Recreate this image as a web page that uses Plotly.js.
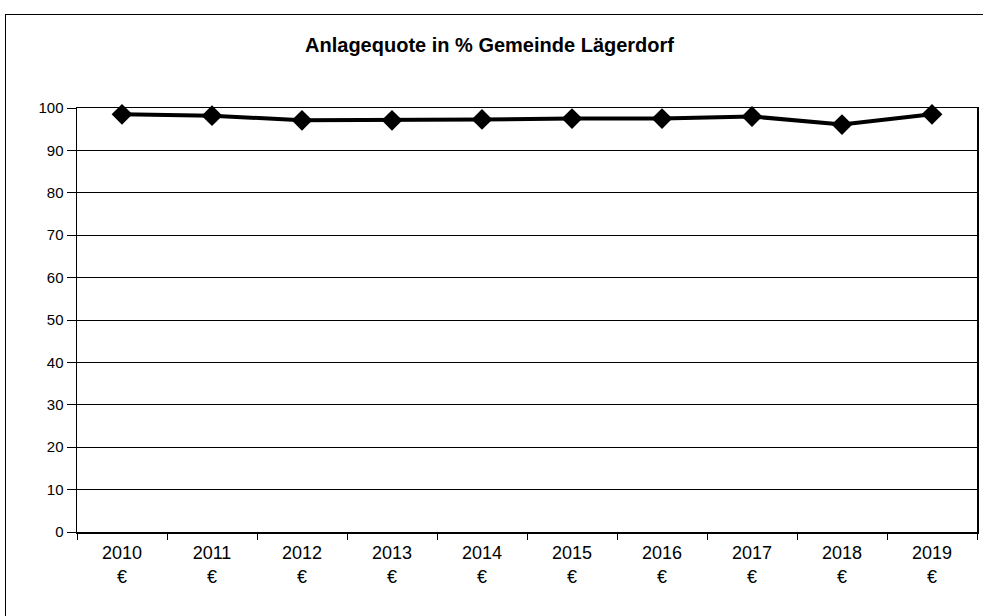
<!DOCTYPE html>
<html>
<head>
<meta charset="utf-8">
<script src="https://cdn.plot.ly/plotly-3.0.1.min.js"></script>
<style>
html,body{margin:0;padding:0;background:#fff;}
#wrap{position:relative;width:983px;height:616px;}
#chart{position:absolute;left:0;top:0;width:983px;height:616px;}
#frame{position:absolute;left:5px;top:14px;width:978px;height:602px;border-top:1px solid #000;border-left:1px solid #000;pointer-events:none;}
</style>
</head>
<body>
<div id="wrap"><div id="chart"></div><div id="frame"></div></div>
<script>
const years = ["2010","2011","2012","2013","2014","2015","2016","2017","2018","2019"];
const tickLabels = ["2010<br>€","2011<br>€","2012<br>€","2013<br>€","2014<br>€","2015<br>€","2016<br>€","2017<br>€","2018<br>€","2019<br>€"];
const anlagequote = [98.5, 98.2, 97.1, 97.1, 97.3, 97.5, 97.5, 98.0, 96.1, 98.5];
const yTicks = [0,10,20,30,40,50,60,70,80,90,100];

const trace = {
  x: years,
  y: anlagequote,
  type: "scatter",
  mode: "lines+markers",
  line: {color: "#000", width: 4},
  marker: {symbol: "diamond", size: 16, color: "#000"},
  hoverinfo: "skip",
  cliponaxis: false
};

const layout = {
  width: 983, height: 616,
  margin: {l: 77, r: 6, t: 108, b: 84},
  paper_bgcolor: "#fff",
  plot_bgcolor: "#fff",
  showlegend: false,
  font: {family: "Liberation Sans, Arial, sans-serif", color: "#000"},
  title: {
    text: "<b>Anlagequote in % Gemeinde Lägerdorf</b>",
    font: {size: 20, family: "Liberation Sans, Arial, sans-serif", color: "#000"},
    x: 0.498, xanchor: "center",
    y: 1 - 45/616, yanchor: "middle"
  },
  xaxis: {
    type: "category",
    range: [-0.5, 9.5],
    autorange: false,
    tickmode: "array",
    tickvals: years,
    ticktext: tickLabels,
    tickson: "boundaries",
    ticks: "outside",
    ticklen: 6,
    tickcolor: "#000",
    tickfont: {size: 18},
    ticklabelstandoff: 4,
    showline: true, linecolor: "#000", linewidth: 1.5,
    mirror: true,
    showgrid: false,
    zeroline: false,
    fixedrange: true
  },
  yaxis: {
    range: [0, 100],
    autorange: false,
    tickmode: "array",
    tickvals: yTicks,
    ticks: "outside",
    ticklen: 9,
    tickcolor: "#000",
    tickfont: {size: 15},
    showline: true, linecolor: "#000", linewidth: 1.5,
    mirror: true,
    showgrid: true, gridcolor: "#000", gridwidth: 1,
    zeroline: false,
    fixedrange: true
  }
};

Plotly.newPlot("chart", [trace], layout, {displayModeBar: false, staticPlot: true});
</script>
</body>
</html>
